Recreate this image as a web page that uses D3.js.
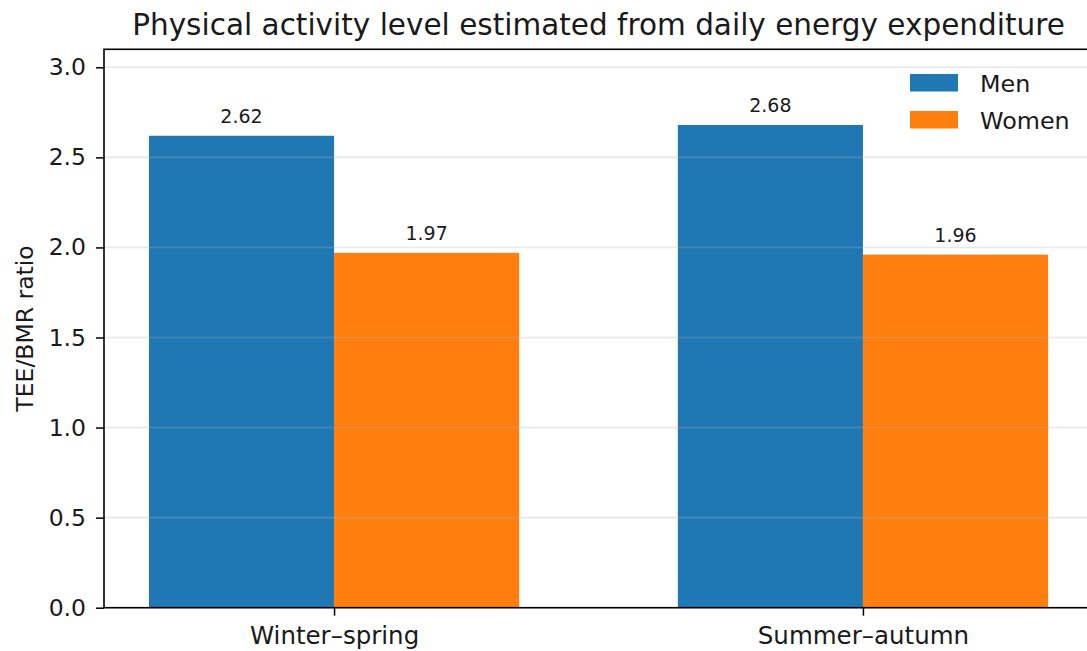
<!DOCTYPE html>
<html>
<head>
<meta charset="utf-8">
<script src="https://cdn.jsdelivr.net/npm/d3@7"></script>
<style>
  html, body { margin: 0; padding: 0; background: #fff; overflow: hidden; }
  svg { display: block; font-family: "DejaVu Sans", sans-serif; }
</style>
</head>
<body>
<svg id="chart" width="1087" height="651"></svg>
<script>
const categories = ["Winter–spring", "Summer–autumn"];
const seriesNames = ["Men", "Women"];
const menValues = [2.62, 2.68];
const womenValues = [1.97, 1.96];
const yTicks = [0.0, 0.5, 1.0, 1.5, 2.0, 2.5, 3.0];
const titleText = "Physical activity level estimated from daily energy expenditure";
const yLabelText = "TEE/BMR ratio";

(function () {
const colors = ["#1f77b4", "#ff7f0e"];
const series = [menValues, womenValues];
const barWidth = 0.35;

const svg = d3.select("#chart");
const mLeft = 104, mRight = 1093, mTop = 49.3, mBottom = 607.7;

const x = d3.scaleLinear().domain([-0.435, 1.435]).range([mLeft, mRight]);
const y = d3.scaleLinear().domain([0, 3.1]).range([mBottom, mTop]);

// bars
const barData = [];
series.forEach((vals, si) => {
  vals.forEach((v, ci) => {
    barData.push({ si, ci, v, x0: ci + (si === 0 ? -barWidth : 0) });
  });
});

svg.append("g").selectAll("rect").data(barData).enter().append("rect")
  .attr("x", d => x(d.x0))
  .attr("width", d => x(d.x0 + barWidth) - x(d.x0))
  .attr("y", d => y(d.v))
  .attr("height", d => y(0) - y(d.v))
  .attr("fill", d => colors[d.si]);

// grid (drawn above bars, translucent)
svg.append("g").selectAll("line").data(yTicks).enter().append("line")
  .attr("x1", mLeft).attr("x2", mRight)
  .attr("y1", d => y(d)).attr("y2", d => y(d))
  .attr("stroke", "#b0b0b0").attr("stroke-opacity", 0.3).attr("stroke-width", 1.6);

// value labels
svg.append("g").selectAll("text").data(barData).enter().append("text")
  .attr("x", d => x(d.x0 + barWidth / 2))
  .attr("y", d => y(d.v + 0.05) - 4)
  .attr("text-anchor", "middle")
  .attr("font-size", "19px")
  .attr("fill", "#1a1a1a")
  .text(d => d.v.toFixed(2));

// axes
const yAxis = d3.axisLeft(y).tickValues(yTicks).tickFormat(d3.format(".1f")).tickSize(8).tickPadding(10);
const gy = svg.append("g").attr("transform", `translate(${mLeft},0)`).call(yAxis);
gy.select(".domain").remove();
gy.selectAll(".tick line").attr("stroke", "#000").attr("stroke-width", 1.5);
gy.selectAll(".tick text").attr("font-size", "23.5px").attr("fill", "#1a1a1a").attr("font-family", "DejaVu Sans");

const xAxis = d3.axisBottom(x).tickValues([0, 1]).tickFormat(i => categories[i]).tickSize(8).tickPadding(11);
const gx = svg.append("g").attr("transform", `translate(0,${mBottom})`).call(xAxis);
gx.select(".domain").remove();
gx.selectAll(".tick line").attr("stroke", "#000").attr("stroke-width", 1.5);
gx.selectAll(".tick text").attr("font-size", "24.5px").attr("fill", "#1a1a1a").attr("font-family", "DejaVu Sans");

// spines
const spine = svg.append("g").attr("fill", "none").attr("stroke", "#000").attr("stroke-width", 1.6);
spine.append("rect").attr("x", mLeft).attr("y", mTop).attr("width", mRight - mLeft).attr("height", mBottom - mTop);

// title
svg.append("text")
  .attr("x", (mLeft + mRight) / 2).attr("y", 34.5)
  .attr("text-anchor", "middle").attr("font-size", "29.5px").attr("fill", "#1a1a1a")
  .text(titleText);

// y label
svg.append("text")
  .attr("transform", `translate(33,${(mTop + mBottom) / 2}) rotate(-90)`)
  .attr("text-anchor", "middle").attr("font-size", "23.5px").attr("fill", "#1a1a1a")
  .text(yLabelText);

// legend
const lg = svg.append("g").attr("transform", "translate(910,74)");
seriesNames.forEach((name, i) => {
  const row = lg.append("g").attr("transform", `translate(0,${i * 37})`);
  row.append("rect").attr("width", 48).attr("height", 17.5).attr("fill", colors[i]);
  row.append("text").attr("x", 70).attr("y", 9).attr("dy", "0.36em")
    .attr("font-size", "23.8px").attr("fill", "#1a1a1a").text(name);
});
})();
</script>
</body>
</html>
